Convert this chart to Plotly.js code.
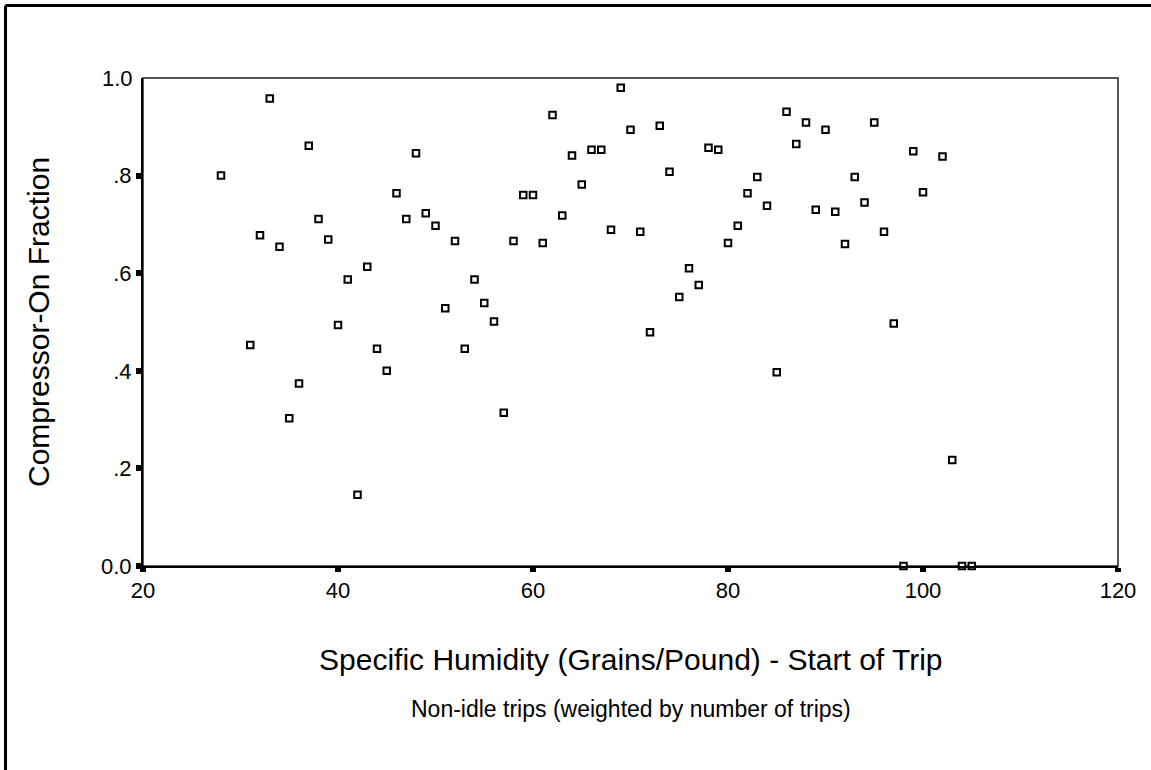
<!DOCTYPE html>
<html>
<head>
<meta charset="utf-8">
<script src="https://cdn.plot.ly/plotly-3.0.1.min.js"></script>
<style>html,body{margin:0;padding:0;background:#fff;}#chart{width:1151px;height:770px;}</style>
</head>
<body>
<div id="chart"></div>
<script>
// Specific humidity at start of trip (grains/pound)
const humidity = [28,31,32,33,34,35,36,37,38,39,40,41,42,43,44,45,46,47,48,49,50,51,52,53,54,55,56,57,58,59,60,61,62,63,64,65,66,67,68,69,70,71,72,73,74,75,76,77,78,79,80,81,82,83,84,85,86,87,88,89,90,91,92,93,94,95,96,97,98,99,100,102,103,104,105];
// Compressor-on fraction
const fraction = [0.80,0.453,0.678,0.958,0.654,0.303,0.374,0.861,0.711,0.669,0.494,0.587,0.146,0.613,0.445,0.400,0.764,0.711,0.846,0.723,0.697,0.528,0.666,0.445,0.587,0.539,0.501,0.314,0.666,0.760,0.760,0.662,0.924,0.718,0.841,0.782,0.853,0.853,0.689,0.980,0.894,0.685,0.479,0.902,0.808,0.551,0.610,0.576,0.857,0.853,0.662,0.697,0.764,0.797,0.738,0.397,0.931,0.865,0.909,0.730,0.894,0.726,0.660,0.797,0.745,0.909,0.685,0.497,0,0.850,0.766,0.839,0.217,0,0];
const xTickVals = [20,40,60,80,100,120];
const yTickVals = [0,0.2,0.4,0.6,0.8];
const yTickText = ['0.0','.2','.4','.6','.8'];
const yTopVal = [1.0];
const yTopText = ['1.0'];
const xTitle = 'Specific Humidity (Grains/Pound) - Start of Trip';
const yTitle = 'Compressor-On Fraction';
const subTitle = 'Non-idle trips (weighted by number of trips)';

const FONT = '"Liberation Sans", Arial, Helvetica, sans-serif';

const trace = {
  type: 'scatter',
  mode: 'markers',
  x: humidity,
  y: fraction,
  cliponaxis: false,
  marker: {symbol: 'square', size: 6.5, color: '#ffffff', line: {color: '#000000', width: 2}},
  hoverinfo: 'x+y'
};
// empty helper trace so the overlay axis carrying the "1.0" label (without a tick mark) is drawn
const helper = {type: 'scatter', mode: 'markers', x: [], y: [], yaxis: 'y2', hoverinfo: 'skip', showlegend: false};

const layout = {
  width: 1151,
  height: 770,
  margin: {l: 143, r: 33, t: 78, b: 204, pad: 0},
  paper_bgcolor: '#ffffff',
  plot_bgcolor: '#ffffff',
  showlegend: false,
  font: {family: FONT, color: '#000000', size: 22},
  xaxis: {
    range: [20, 120],
    tickvals: xTickVals,
    ticks: 'outside', ticklen: 4, tickwidth: 6, tickcolor: '#000',
    showline: true, linecolor: '#000', linewidth: 2,
    showgrid: false, zeroline: false,
    tickfont: {family: FONT, size: 22, color: '#000'}
  },
  yaxis: {
    range: [0, 1],
    tickvals: yTickVals,
    ticktext: yTickText,
    ticks: 'outside', ticklen: 5, tickwidth: 6, tickcolor: '#000',
    showline: true, linecolor: '#000', linewidth: 2,
    showgrid: false, zeroline: false,
    tickfont: {family: FONT, size: 22, color: '#000'}
  },
  yaxis2: {
    overlaying: 'y', side: 'left',
    range: [0, 1],
    tickvals: yTopVal,
    ticktext: yTopText,
    ticks: 'outside', ticklen: 5, tickwidth: 6, tickcolor: 'rgba(0,0,0,0)',
    showline: false, showgrid: false, zeroline: false,
    tickfont: {family: FONT, size: 22, color: '#000'}
  },
  shapes: [
    {type: 'rect', xref: 'paper', yref: 'paper', x0: 0, x1: 1, y0: 0, y1: 1,
     line: {color: '#222', width: 1.5}, fillcolor: 'rgba(0,0,0,0)', layer: 'below'},
    {type: 'line', xref: 'paper', yref: 'paper', x0: -0.141, x1: 1.2, y0: 1.1486, y1: 1.1486,
     line: {color: '#000', width: 3}},
    {type: 'line', xref: 'paper', yref: 'paper', x0: -0.141, x1: -0.141, y0: -0.5, y1: 1.1486,
     line: {color: '#000', width: 3}}
  ],
  annotations: [
    {text: xTitle, xref: 'paper', yref: 'paper', x: 0.5, y: -0.1906, xanchor: 'center', yanchor: 'middle',
     showarrow: false, font: {family: FONT, size: 30, color: '#000'}},
    {text: subTitle, xref: 'paper', yref: 'paper', x: 0.5, y: -0.293, xanchor: 'center', yanchor: 'middle',
     showarrow: false, font: {family: FONT, size: 23, color: '#000'}},
    {text: yTitle, xref: 'paper', yref: 'paper', x: -0.1077, y: 0.5, xanchor: 'center', yanchor: 'middle',
     textangle: -90, showarrow: false, font: {family: FONT, size: 30, color: '#000'}}
  ]
};

Plotly.newPlot('chart', [trace, helper], layout, {displayModeBar: false, staticPlot: true});
</script>
</body>
</html>
